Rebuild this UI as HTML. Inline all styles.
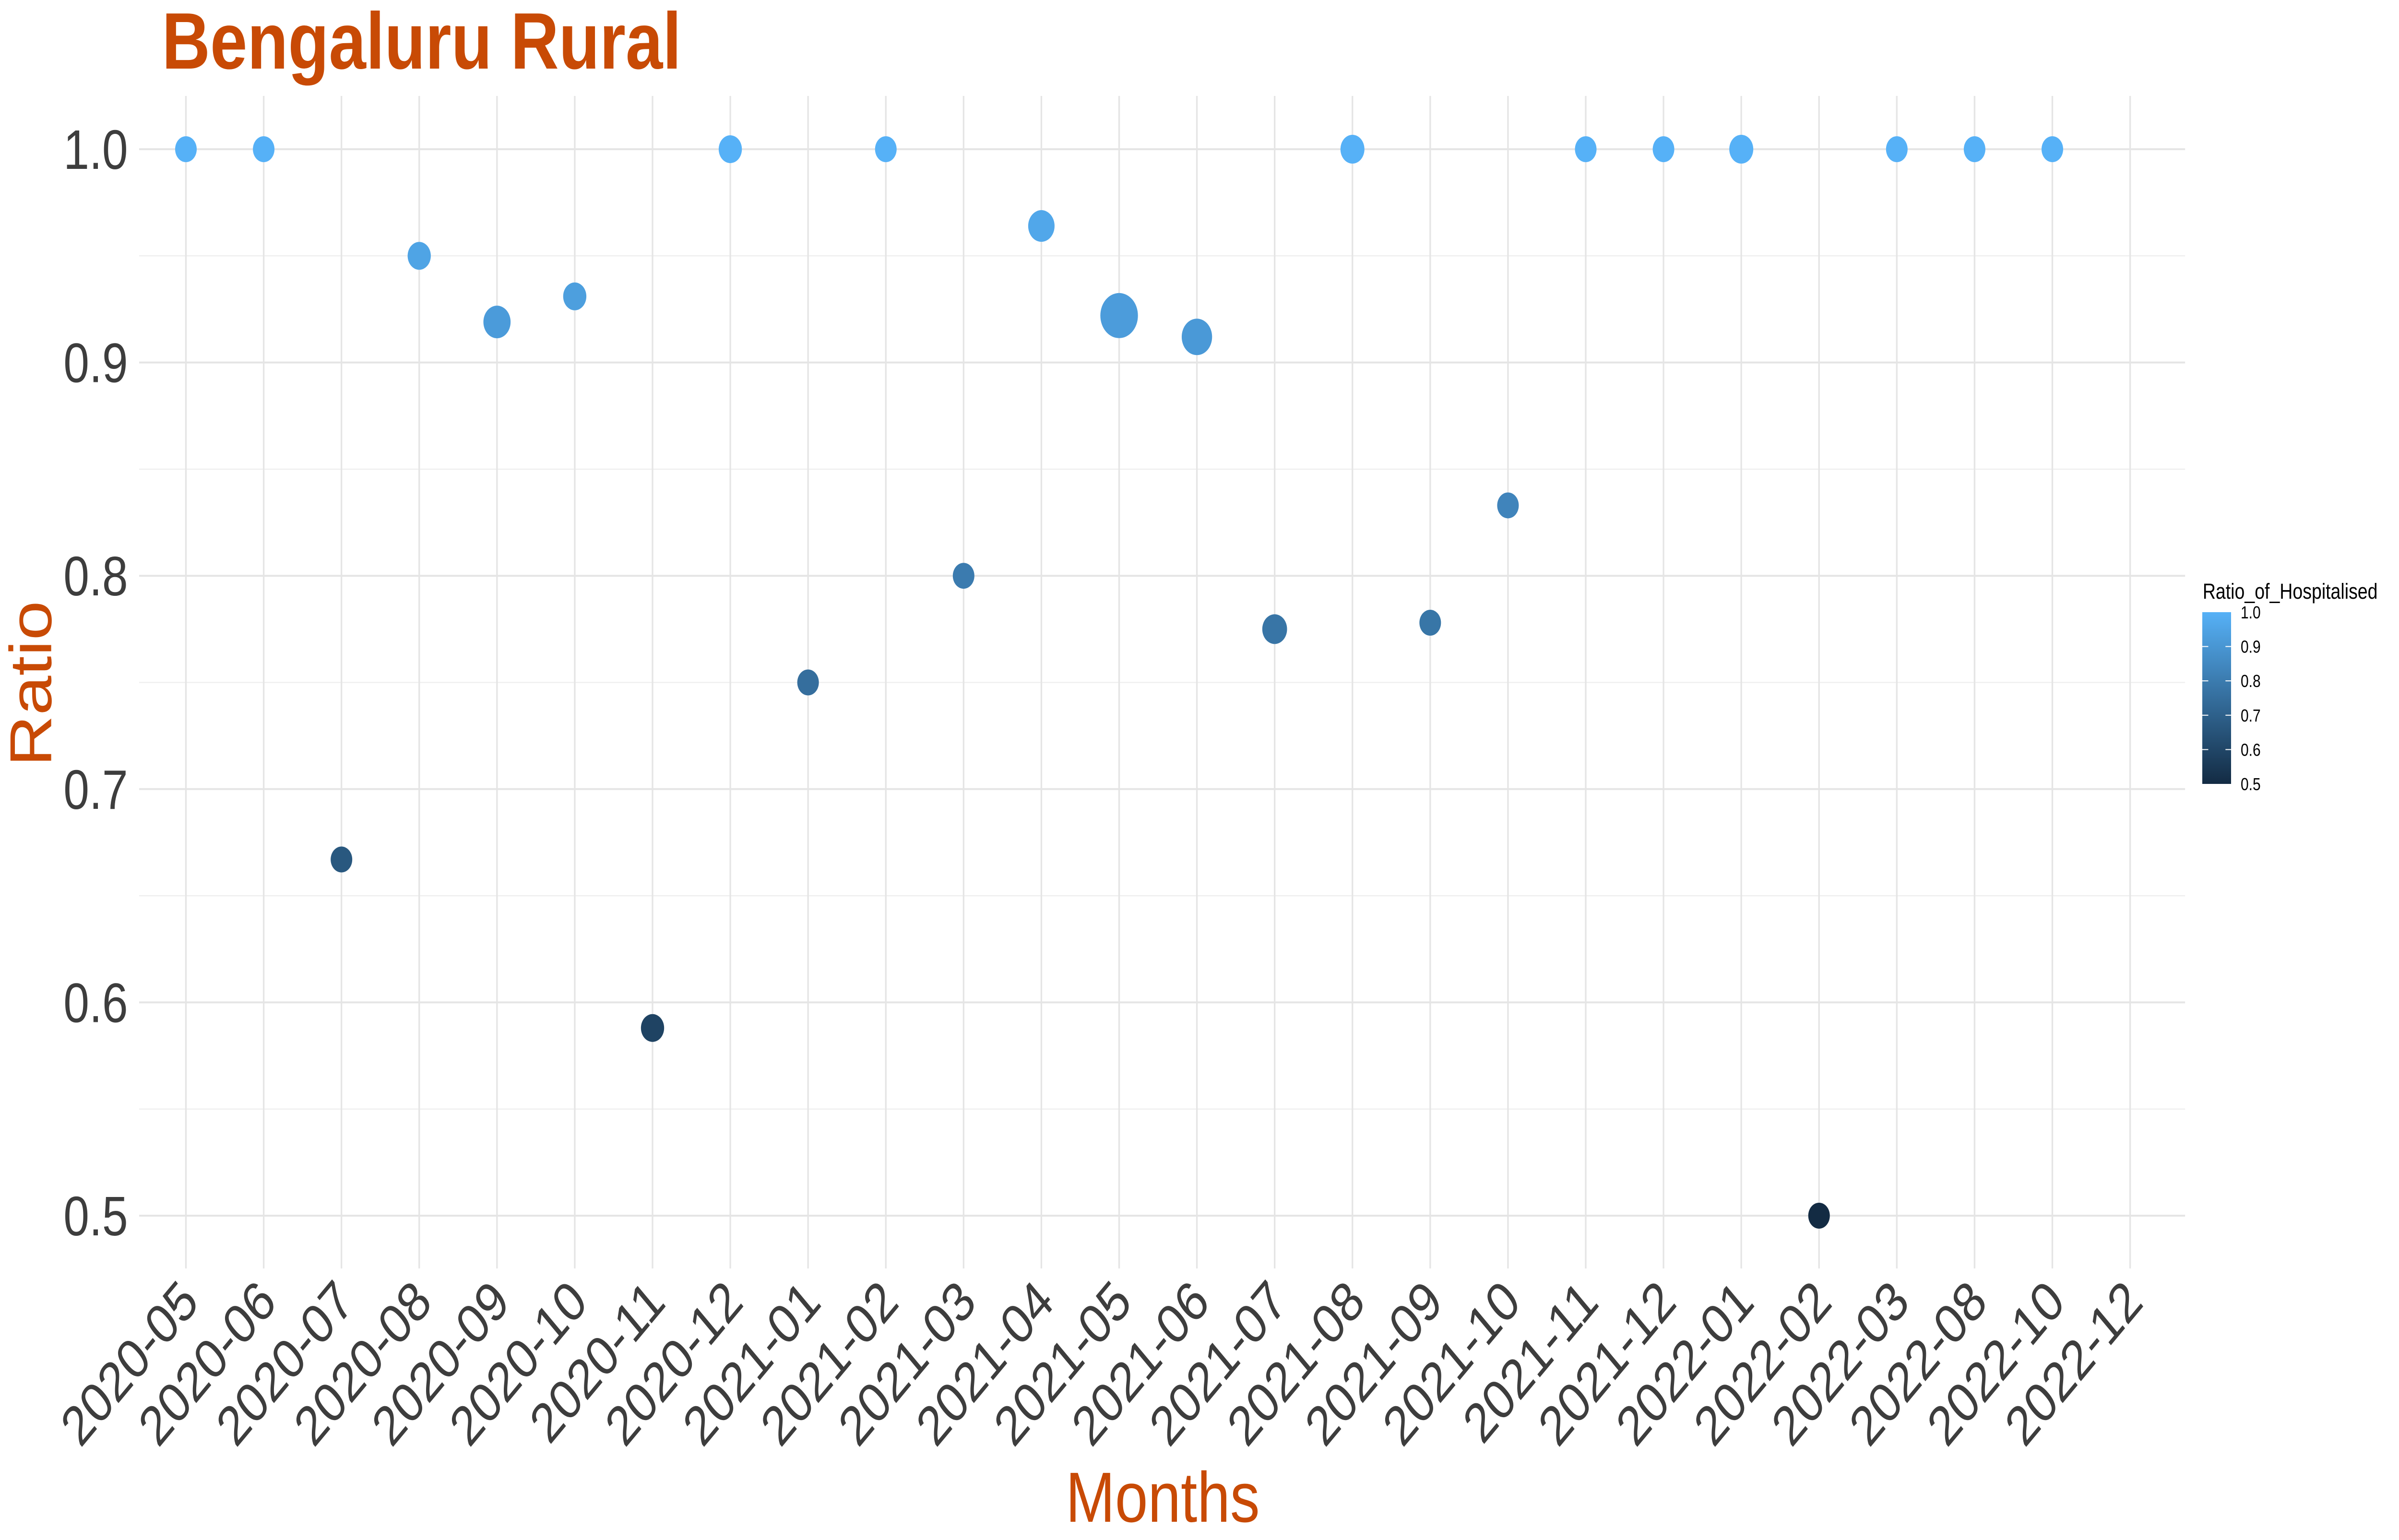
<!DOCTYPE html>
<html><head><meta charset="utf-8"><style>
html,body{margin:0;padding:0;background:#fff;width:100%;height:100%;overflow:hidden;}
svg{display:block;position:fixed;left:0;top:0;width:100%;height:100%;font-family:"Liberation Sans",Arial,sans-serif;}
</style></head><body>
<svg id="chart" viewBox="0 0 6000 3210" preserveAspectRatio="none" xmlns="http://www.w3.org/2000/svg">
<rect x="0" y="0" width="6000" height="3210" fill="#fff"/>
<g id="grid"></g>
<g id="points"></g>
<g id="yticks"></g>
<g id="xticks"></g>
<text x="405" y="143" font-size="167" font-weight="bold" fill="#c84a05">Bengaluru Rural</text>
<text x="2908" y="3172" font-size="148" fill="#c84a05" text-anchor="middle">Months</text>
<text transform="translate(128,1425) rotate(-90)" font-size="148" fill="#c84a05" text-anchor="middle">Ratio</text>
<g id="legend">
<defs><linearGradient id="grad" x1="0" y1="1" x2="0" y2="0"><stop offset="0" stop-color="#132B43"/><stop offset="1" stop-color="#56B1F7"/></linearGradient></defs>
<text x="5509" y="1248" font-size="45" fill="#000">Ratio_of_Hospitalised</text>
<rect x="5508" y="1276" width="72" height="358" fill="url(#grad)"/>
</g>
</svg>
<script>
const months = ["2020-05","2020-06","2020-07","2020-08","2020-09","2020-10","2020-11","2020-12","2021-01","2021-02","2021-03","2021-04","2021-05","2021-06","2021-07","2021-08","2021-09","2021-10","2021-11","2021-12","2022-01","2022-02","2022-03","2022-08","2022-10","2022-12"];
const ratios = [1.0,1.0,0.667,0.95,0.919,0.931,0.588,1.0,0.75,1.0,0.80,0.964,0.922,0.912,0.775,1.0,0.778,0.833,1.0,1.0,1.0,0.5,1.0,1.0,1.0,null];
const sizes = [27,27,27,29,34,29,29,29,27,27,27,33,47,38,31,30,27,27,27,27,30,27,27,27,27,null];
const yTicks = [0.5,0.6,0.7,0.8,0.9,1.0];
const yTickLabels = ["0.5","0.6","0.7","0.8","0.9","1.0"];
const legendTicks = [0.5,0.6,0.7,0.8,0.9,1.0];
const legendLabels = ["0.5","0.6","0.7","0.8","0.9","1.0"];

const NS="http://www.w3.org/2000/svg";
const PL=348, PR=5465, PT=200, PB=2644;
const X0=465, DX=194.5;
const xScale = i => X0 + i*DX;
const yScale = v => 311 + (1.0 - v)*4446;
const lo=[0x13,0x2B,0x43], hi=[0x56,0xB1,0xF7];
function colorOf(v){const t=Math.max(0,Math.min(1,(v-0.5)/0.5));return "rgb("+lo.map((c,k)=>Math.round(c+(hi[k]-c)*t)).join(",")+")";}
function mk(tag,attrs,parent){const e=document.createElementNS(NS,tag);for(const k in attrs)e.setAttribute(k,attrs[k]);parent.appendChild(e);return e;}

const grid=document.getElementById('grid');
for(let i=0;i<yTicks.length-1;i++){
  const m=(yTicks[i]+yTicks[i+1])/2;
  const l=mk('line',{x1:PL,x2:PR,y1:yScale(m),y2:yScale(m),stroke:"#ececec","stroke-width":2},grid);
  
  
}
yTicks.forEach(v=>{
  const l=mk('line',{x1:PL,x2:PR,y1:yScale(v),y2:yScale(v),stroke:"#e5e5e5","stroke-width":4},grid);
  
  
});
months.forEach((m,i)=>{
  const l=mk('line',{x1:xScale(i),x2:xScale(i),y1:PT,y2:PB,stroke:"#e5e5e5","stroke-width":4},grid);
  
  
});

const pts=document.getElementById('points');
months.forEach((m,i)=>{
  if(ratios[i]==null)return;
  const c=mk('circle',{cx:xScale(i),cy:yScale(ratios[i]),r:sizes[i],fill:colorOf(ratios[i])},pts);
  
  
});

const yt=document.getElementById('yticks');
yTicks.forEach((v,i)=>{
  const t=mk('text',{x:320,y:yScale(v)+41,"font-size":116,fill:"#3d3d3d","text-anchor":"end"},yt);
  t.textContent=yTickLabels[i];
  
  
});

const xt=document.getElementById('xticks');
months.forEach((m,i)=>{
  const x=xScale(i)+8, y=2690;
  const t=mk('text',{x:0,y:0,"font-size":116,fill:"#3d3d3d","text-anchor":"end",transform:"translate("+x+","+y+") rotate(-45) translate(0,41)"},xt);
  t.textContent=m;
  
  
});

const lg=document.getElementById('legend');
const lyScale=v=>1634-(v-0.5)/0.5*358;
legendTicks.forEach((v,i)=>{
  const y=lyScale(v);
  if(v>0.5&&v<1.0){
    const a=mk('line',{x1:5508,x2:5523,y1:y,y2:y,stroke:"#fff","stroke-width":2},lg);
    
    
    const b=mk('line',{x1:5566,x2:5580,y1:y,y2:y,stroke:"#fff","stroke-width":2},lg);
    
    
  }
  const t=mk('text',{x:5604,y:y+13,"font-size":36,fill:"#000"},lg);
  t.textContent=legendLabels[i];
  
  
});
</script>
</body></html>
